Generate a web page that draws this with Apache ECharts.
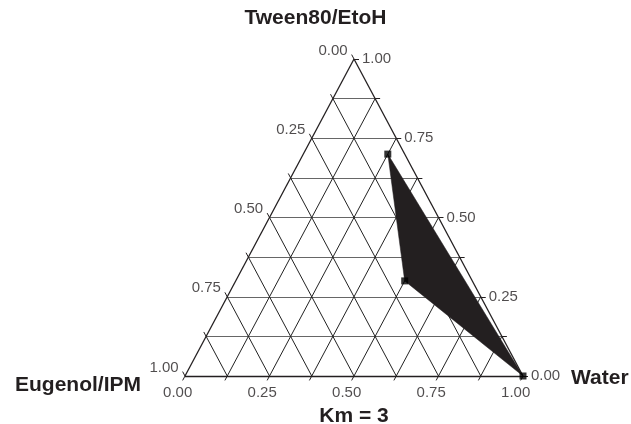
<!DOCTYPE html>
<html>
<head>
<meta charset="utf-8">
<script src="https://cdn.jsdelivr.net/npm/echarts@6/dist/echarts.min.js"></script>
<style>
html,body{margin:0;padding:0;background:#fff;}
#chart{width:631px;height:424px;}
</style>
</head>
<body>
<div id="chart"></div>
<script>
// ---- data ----
const vertexNames = ['Eugenol/IPM', 'Water', 'Tween80/EtoH'];
const caption = 'Km = 3';
const tickValues = [0, 0.25, 0.5, 0.75, 1];
const tickLabels = ['0.00', '0.25', '0.50', '0.75', '1.00'];
const gridSteps = [0.125, 0.25, 0.375, 0.5, 0.625, 0.75, 0.875];
const allSteps = [0, 0.125, 0.25, 0.375, 0.5, 0.625, 0.75, 0.875, 1];
// microemulsion region vertices (fractions)
const regionEugenol = [0.05, 0.20, 0.00];
const regionWater   = [0.25, 0.50, 1.00];
const regionTween   = [0.70, 0.30, 0.00];

// ternary (E, W, T) -> cartesian data space [x, y]
function tern(e, w, t) { return [w + t / 2, t]; }

const FONT = '"Liberation Sans", Arial, Helvetica, sans-serif';
const TXT = '#231f20';

// grid lines
const horizLines = gridSteps.map(t => ({ coords: [tern(1 - t, 0, t), tern(0, 1 - t, t)] }));
const slantLines = [];
gridSteps.forEach(w => slantLines.push({ coords: [tern(1 - w, w, 0), tern(0, w, 1 - w)] }));
gridSteps.forEach(e => slantLines.push({ coords: [tern(e, 1 - e, 0), tern(e, 0, 1 - e)] }));
const edges = [
  { coords: [tern(1, 0, 0), tern(0, 1, 0)] },
  { coords: [tern(0, 1, 0), tern(0, 0, 1)] },
  { coords: [tern(0, 0, 1), tern(1, 0, 0)] }
];
// tick vectors (data space)
const kS = 5 / 359;      // slanted tick
const kH = 5 / 338;      // horizontal tick
function add(p, d) { return [p[0] + d[0], p[1] + d[1]]; }
const leftDir = [-0.5 * kS, 1 * kS];
const bottomDir = [-0.5 * kS, -1 * kS];
const rightDir = [kH, 0];
const ticks = [];
allSteps.forEach(v => {
  const pl = tern(v, 0, 1 - v); ticks.push({ coords: [pl, add(pl, leftDir)] });
  const pb = tern(1 - v, v, 0); ticks.push({ coords: [pb, add(pb, bottomDir)] });
  const pr = tern(0, 1 - v, v); ticks.push({ coords: [pr, add(pr, rightDir)] });
});
const leftLabels = tickValues.map((v, i) => ({ value: add(tern(v, 0, 1 - v), leftDir), name: tickLabels[i] }));
const bottomLabels = tickValues.map((v, i) => ({ value: add(tern(1 - v, v, 0), bottomDir), name: tickLabels[i] }));
const rightLabels = tickValues.map((v, i) => ({ value: add(tern(0, 1 - v, v), rightDir), name: tickLabels[i] }));

const regionPts = regionEugenol.map((e, i) => tern(e, regionWater[i], regionTween[i]));
const regionFlat = [].concat(...regionPts);

const labelBase = { show: true, formatter: '{b}', fontFamily: FONT, fontSize: 15, color: TXT };

const chart = echarts.init(document.getElementById('chart'), null, { renderer: 'canvas' });
chart.setOption({
  animation: false,
  backgroundColor: '#fff',
  grid: { left: 185, top: 59, width: 338, height: 317 },
  xAxis: { type: 'value', min: 0, max: 1, show: false },
  yAxis: { type: 'value', min: 0, max: 1, show: false },
  graphic: [
    { type: 'text', left: 'center', top: 8, style: { text: vertexNames[2], font: 'bold 21px ' + FONT, fill: TXT } },
    { type: 'text', x: 15, y: 385, style: { text: vertexNames[0], font: 'bold 21px ' + FONT, fill: TXT, verticalAlign: 'middle' } },
    { type: 'text', x: 571, y: 378, style: { text: vertexNames[1], font: 'bold 21px ' + FONT, fill: TXT, verticalAlign: 'middle' } },
    { type: 'text', x: 354, y: 416, style: { text: caption, font: 'bold 21px ' + FONT, fill: TXT, align: 'center', verticalAlign: 'middle' } }
  ],
  series: [
    { type: 'lines', coordinateSystem: 'cartesian2d', silent: true, z: 1, clip: false,
      lineStyle: { color: '#666', width: 1, opacity: 1 }, data: horizLines },
    { type: 'lines', coordinateSystem: 'cartesian2d', silent: true, z: 1, clip: false,
      lineStyle: { color: '#222', width: 1, opacity: 1 }, data: slantLines },
    { type: 'custom', coordinateSystem: 'cartesian2d', z: 3, silent: true, clip: false,
      data: [regionFlat],
      renderItem: function (params, api) {
        const pts = [];
        for (let i = 0; i < regionFlat.length; i += 2) pts.push(api.coord([api.value(i), api.value(i + 1)]));
        return { type: 'polygon', shape: { points: pts }, style: { fill: '#231f20', stroke: '#231f20', lineWidth: 0.5 } };
      }
    },
    { type: 'lines', coordinateSystem: 'cartesian2d', silent: true, z: 4, clip: false,
      lineStyle: { color: '#231f20', width: 1.3, opacity: 1 }, data: edges },
    { type: 'lines', coordinateSystem: 'cartesian2d', silent: true, z: 4, clip: false,
      lineStyle: { color: '#231f20', width: 1, opacity: 1 }, data: ticks },
    { type: 'scatter', z: 5, symbol: 'rect', symbolSize: 7, itemStyle: { color: '#000' }, silent: true, clip: false,
      data: regionPts },
    { type: 'scatter', z: 5, symbolSize: 0, silent: true, clip: false, data: leftLabels,
      label: Object.assign({}, labelBase, { position: 'left', distance: 3, offset: [-1, -4] }) },
    { type: 'scatter', z: 5, symbolSize: 0, silent: true, clip: false, data: bottomLabels,
      label: Object.assign({}, labelBase, { position: 'bottom', distance: 3, offset: [-5, 2] }) },
    { type: 'scatter', z: 5, symbolSize: 0, silent: true, clip: false, data: rightLabels,
      label: Object.assign({}, labelBase, { position: 'right', distance: 3, offset: [0, 0] }) }
  ]
});
</script>
</body>
</html>
